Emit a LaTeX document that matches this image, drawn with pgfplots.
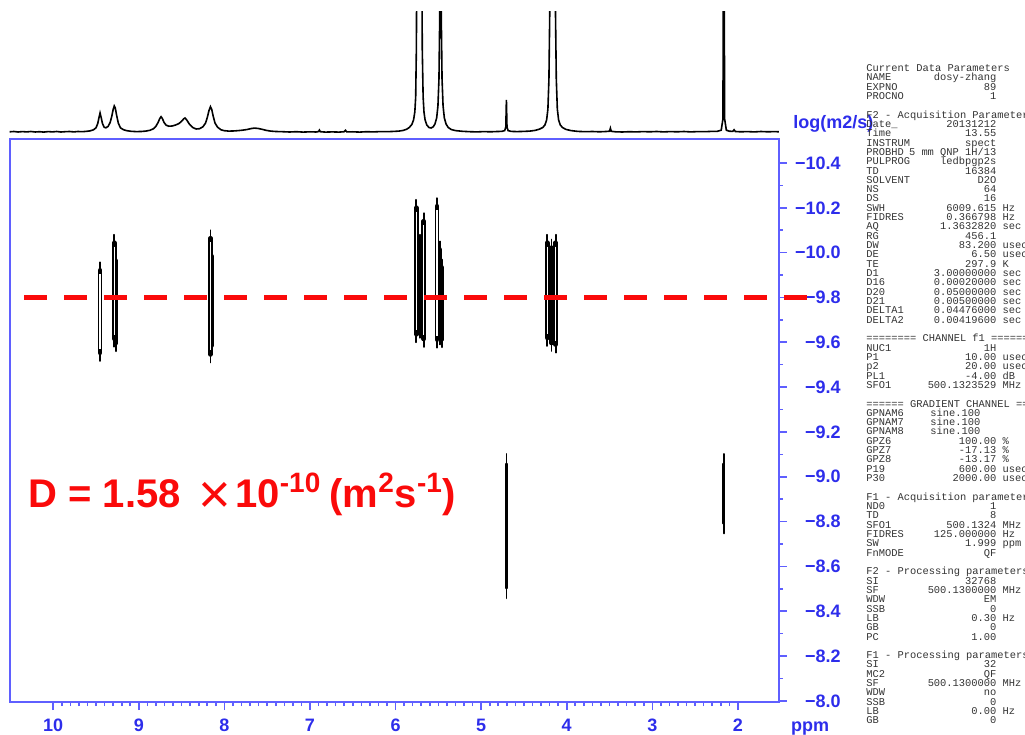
\documentclass[border=0pt]{standalone}
\usepackage{pgfplots}
\pgfplotsset{compat=1.18}
\usepackage{fontspec}
\setmainfont{Liberation Sans}
\newfontfamily\monofont{Liberation Mono}
\definecolor{axblue}{RGB}{95,95,255}
\definecolor{lblue}{RGB}{45,45,235}
\definecolor{dred}{RGB}{250,10,10}
\newcommand\parfont{\monofont\fontsize{5.2}{4.66}\selectfont}
\newcommand\Ln[1]{\hbox{\vrule height 3.3pt depth 1.36pt width 0pt\smash{#1}}}
\newcommand\pr[3]{\Ln{\rlap{#1}\makebox[65pt][r]{#2}\ #3}}
\newcommand\pk[3]{%
  \addplot[black, line width=0.9pt, line cap=round, forget plot] coordinates {(#1,#2) (#1,#3)};
  \addplot[black, line width=2.3pt, line cap=round, shorten <=4pt, shorten >=4pt, forget plot] coordinates {(#1,#2) (#1,#3)};}
\newcommand\pkw[3]{%
  \addplot[white, line width=0.7pt, shorten <=6pt, shorten >=6pt, forget plot] coordinates {(#1,#2) (#1,#3)};}
\newcommand\pks[3]{%
  \addplot[black, line width=0.8pt, line cap=round, forget plot] coordinates {(#1,#2) (#1,#3)};
  \addplot[black, line width=1.5pt, line cap=round, shorten <=5pt, shorten >=5pt, forget plot] coordinates {(#1,#2) (#1,#3)};}
\begin{document}
\begin{tikzpicture}[x=1pt,y=1pt]
\useasboundingbox (0,0) rectangle (512.5,367.5);
\begin{axis}[
  at={(4.8pt,16.5pt)}, anchor=south west, scale only axis,
  width=384.7pt, height=281.5pt,
  xmin=1.52, xmax=10.51, x dir=reverse,
  ymin=-10.507, ymax=-7.995, y dir=reverse,
  clip=false,
  axis line style={axblue, line width=1pt},
  xtick={2,3,4,5,6,7,8,9,10}, minor x tick num=9,
  xticklabels={2,3,4,5,6,7,8,9,10},
  ytick={-10.4,-10.2,-10.0,-9.8,-9.6,-9.4,-9.2,-9.0,-8.8,-8.6,-8.4,-8.2,-8.0},
  yticklabels={−10.4,−10.2,−10.0,−9.8,−9.6,−9.4,−9.2,−9.0,−8.8,−8.6,−8.4,−8.2,−8.0},
  minor y tick num=1,
  xtick pos=left, ytick pos=right, yticklabel pos=right,
  tick align=outside,
  major tick length=4pt, minor tick length=2pt,
  tick style={axblue, line width=0.8pt},
  tick label style={font=\bfseries\fontsize{9}{10}\selectfont, text=lblue},
  xticklabel style={yshift=-1pt},
  yticklabel style={anchor=east, xshift=27pt, inner sep=0pt},
]
% 2D cross peaks
\pk{9.453}{-9.957}{-9.517}
\pk{9.287}{-10.08}{-9.58}
\pk{9.270}{-10.00}{-9.56}
\pk{8.163}{-10.10}{-9.51}
\pk{8.150}{-10.02}{-9.55}
\pk{5.757}{-10.236}{-9.60}
\pk{5.710}{-10.08}{-9.62}
\pk{5.671}{-10.176}{-9.579}
\pk{5.515}{-10.243}{-9.576}
\pk{5.485}{-10.05}{-9.59}
\pk{5.456}{-9.969}{-9.578}
\pk{4.228}{-10.08}{-9.584}
\pk{4.178}{-10.058}{-9.561}
\pk{4.130}{-10.08}{-9.554}
\pkw{9.453}{-9.957}{-9.517}
\pkw{9.287}{-10.08}{-9.58}
\pkw{8.163}{-10.10}{-9.51}
\pkw{5.757}{-10.236}{-9.60}
\pkw{5.671}{-10.176}{-9.579}
\pkw{5.515}{-10.243}{-9.576}
\pkw{4.228}{-10.08}{-9.584}
\pkw{4.130}{-10.08}{-9.554}
\pks{4.705}{-9.102}{-8.458}
\pks{2.163}{-9.102}{-8.747}
% reference line
\addplot[dred, line width=2.5pt, dash pattern=on 11.5pt off 8.5pt, forget plot] coordinates {(10.34,-9.8) (1.15,-9.8)};
\end{axis}
\begin{axis}[
  at={(4.8pt,298pt)}, anchor=south west, scale only axis,
  width=384.7pt, height=63.5pt,
  xmin=1.52, xmax=10.51, x dir=reverse,
  ymin=0, ymax=127, hide axis,
]
\addplot[black, line width=0.8pt] coordinates {
(10.51,7.2)(10.46,7.5)(10.41,7.0)(10.36,7.4)(10.31,7.1)(10.26,7.5)(10.21,7.0)(10.16,7.3)(10.11,6.9)(10.06,7.4)(10.01,7.1)(9.96,7.5)(9.91,7.0)(9.86,7.3)(9.81,7.5)(9.76,7.1)(9.71,7.5)(9.66,7.3)(9.61,7.7)(9.57,8.1)(9.53,9.2)(9.50,11.2)(9.48,15.5)(9.465,21.5)(9.453,26)(9.44,21.5)(9.425,15.5)(9.405,11.8)(9.385,11.2)(9.36,12.5)(9.335,16.5)(9.315,23)(9.30,29.5)(9.287,33)(9.275,31)(9.26,24)(9.24,16)(9.215,11.2)(9.18,9.3)(9.14,8.3)(9.09,7.7)(9.03,7.4)(8.97,7.5)(8.92,7.9)(8.87,8.7)(8.83,10.2)(8.80,12.8)(8.775,16.5)(8.755,20.5)(8.74,22.3)(8.725,20.5)(8.705,16.5)(8.68,13.8)(8.65,12.8)(8.61,13.0)(8.57,14.0)(8.53,15.5)(8.50,17.8)(8.475,20.2)(8.46,21)(8.44,19)(8.41,15)(8.37,11.5)(8.33,10.0)(8.29,10.3)(8.25,12.3)(8.22,16)(8.20,21.5)(8.18,28.5)(8.163,32.3)(8.148,29.5)(8.13,22.5)(8.11,16)(8.08,11.8)(8.04,9.2)(8.00,8.3)(7.95,7.9)(7.90,8.0)(7.85,8.3)(7.80,8.7)(7.74,9.4)(7.69,10.4)(7.65,10.9)(7.61,10.6)(7.56,9.7)(7.51,8.6)(7.46,7.9)(7.40,7.5)(7.32,7.3)(7.24,7.0)(7.16,7.3)(7.08,6.9)(7.00,7.2)(6.93,7.0)(6.90,7.4)(6.89,8.9)(6.88,7.3)(6.82,6.9)(6.74,7.1)(6.66,6.9)(6.60,7.3)(6.585,8.7)(6.57,7.1)(6.50,7.2)(6.42,6.9)(6.34,7.3)(6.26,7.1)(6.18,7.4)(6.10,7.3)(6.02,7.6)(5.96,7.9)(5.91,8.6)(5.87,9.8)(5.84,11.5)(5.81,14.5)(5.79,19)(5.775,27)(5.765,42)(5.757,90)(5.745,300)(5.73,160)(5.715,180)(5.70,300)(5.688,90)(5.678,42)(5.668,27)(5.655,19)(5.635,14)(5.61,11.5)(5.585,11)(5.56,12.2)(5.54,15)(5.52,21)(5.505,33)(5.493,60)(5.483,130)(5.475,300)(5.467,130)(5.457,60)(5.445,33)(5.43,21)(5.41,15)(5.385,11.5)(5.35,9.5)(5.30,8.4)(5.22,7.7)(5.13,7.3)(5.05,7.1)(4.97,7.4)(4.89,7.2)(4.81,7.5)(4.76,7.6)(4.725,8.4)(4.712,12)(4.705,39)(4.698,12)(4.685,8.4)(4.65,7.6)(4.58,7.4)(4.50,7.6)(4.43,7.9)(4.37,8.6)(4.32,9.8)(4.28,11.5)(4.255,14)(4.235,19)(4.22,30)(4.208,60)(4.198,130)(4.19,300)(4.165,300)(4.14,300)(4.132,130)(4.122,60)(4.11,30)(4.095,19)(4.075,14)(4.05,11.5)(4.01,9.6)(3.95,8.4)(3.87,7.6)(3.78,7.3)(3.70,7.5)(3.62,7.2)(3.54,7.5)(3.50,7.8)(3.49,10.8)(3.48,7.7)(3.43,7.2)(3.35,7.0)(3.27,7.3)(3.19,7.1)(3.11,7.4)(3.03,7.2)(2.95,7.5)(2.87,7.1)(2.79,7.4)(2.71,7.2)(2.63,7.5)(2.55,7.1)(2.47,7.4)(2.39,7.3)(2.31,7.6)(2.24,7.7)(2.195,8.8)(2.175,20)(2.165,300)(2.155,20)(2.135,8.8)(2.10,7.8)(2.06,7.6)(2.045,9.2)(2.03,7.5)(1.97,7.2)(1.89,7.4)(1.81,7.1)(1.73,7.5)(1.65,7.2)(1.57,7.4)(1.52,7.2)
};
\end{axis}
\node[anchor=west, inner sep=0pt, text=lblue, font=\bfseries\fontsize{9}{10}\selectfont] at (396.5,305.5) {log(m2/s)};
\node[anchor=base, inner sep=0pt, text=lblue, font=\bfseries\fontsize{9}{10}\selectfont] at (405,1.8) {ppm};
\node[anchor=base west, inner sep=0pt, text=dred, font=\bfseries\fontsize{20}{24}\selectfont] at (14,113.5) {D = 1.58\hspace{9pt}{\mdseries\fontsize{28}{28}\selectfont\raisebox{-3pt}{×}}\hspace{2pt}10\textsuperscript{-10}\hspace{4pt}(m\textsuperscript{2}s\textsuperscript{-1})};
\node[anchor=north west, inner sep=0pt, text=black!80, font=\parfont] at (433,335.25) {\vbox{\offinterlineskip
\Ln{Current Data Parameters}
\pr{NAME}{dosy-zhang}{}
\pr{EXPNO}{89}{}
\pr{PROCNO}{1}{}
\Ln{}
\Ln{F2 - Acquisition Parameters}
\pr{Date\_}{20131212}{}
\pr{Time}{13.55}{}
\pr{INSTRUM}{spect}{}
\pr{PROBHD}{5 mm QNP 1H/13}{}
\pr{PULPROG}{ledbpgp2s}{}
\pr{TD}{16384}{}
\pr{SOLVENT}{D2O}{}
\pr{NS}{64}{}
\pr{DS}{16}{}
\pr{SWH}{6009.615}{Hz}
\pr{FIDRES}{0.366798}{Hz}
\pr{AQ}{1.3632820}{sec}
\pr{RG}{456.1}{}
\pr{DW}{83.200}{usec}
\pr{DE}{6.50}{usec}
\pr{TE}{297.9}{K}
\pr{D1}{3.00000000}{sec}
\pr{D16}{0.00020000}{sec}
\pr{D20}{0.05000000}{sec}
\pr{D21}{0.00500000}{sec}
\pr{DELTA1}{0.04476000}{sec}
\pr{DELTA2}{0.00419600}{sec}
\Ln{}
\Ln{======== CHANNEL f1 ========}
\pr{NUC1}{1H}{}
\pr{P1}{10.00}{usec}
\pr{p2}{20.00}{usec}
\pr{PL1}{-4.00}{dB}
\pr{SFO1}{500.1323529}{MHz}
\Ln{}
\Ln{====== GRADIENT CHANNEL =====}
\pr{GPNAM6}{sine.100\hspace{8pt}}{}
\pr{GPNAM7}{sine.100\hspace{8pt}}{}
\pr{GPNAM8}{sine.100\hspace{8pt}}{}
\pr{GPZ6}{100.00}{\%}
\pr{GPZ7}{-17.13}{\%}
\pr{GPZ8}{-13.17}{\%}
\pr{P19}{600.00}{usec}
\pr{P30}{2000.00}{usec}
\Ln{}
\Ln{F1 - Acquisition parameters}
\pr{ND0}{1}{}
\pr{TD}{8}{}
\pr{SFO1}{500.1324}{MHz}
\pr{FIDRES}{125.000000}{Hz}
\pr{SW}{1.999}{ppm}
\pr{FnMODE}{QF}{}
\Ln{}
\Ln{F2 - Processing parameters}
\pr{SI}{32768}{}
\pr{SF}{500.1300000}{MHz}
\pr{WDW}{EM}{}
\pr{SSB}{0}{}
\pr{LB}{0.30}{Hz}
\pr{GB}{0}{}
\pr{PC}{1.00}{}
\Ln{}
\Ln{F1 - Processing parameters}
\pr{SI}{32}{}
\pr{MC2}{QF}{}
\pr{SF}{500.1300000}{MHz}
\pr{WDW}{no}{}
\pr{SSB}{0}{}
\pr{LB}{0.00}{Hz}
\pr{GB}{0}{}}};
\end{tikzpicture}
\end{document}
